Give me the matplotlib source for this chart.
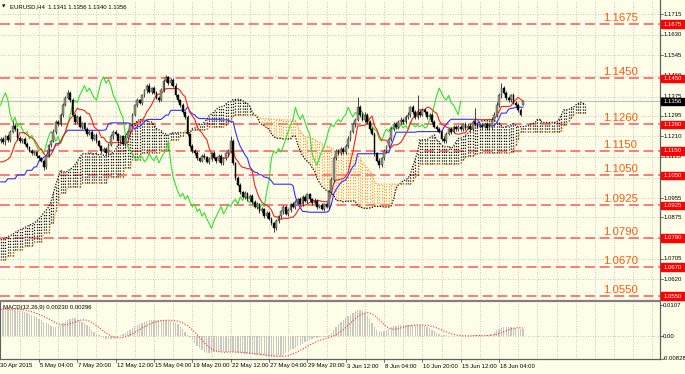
import numpy as np
import pandas as pd
import matplotlib
matplotlib.use('Agg')
import matplotlib.pyplot as plt
from matplotlib.lines import Line2D
from matplotlib.patches import Rectangle

# ---------------- data (prices x 10000) ----------------
close_pts = [
    11200, 11185, 11210, 11195, 11230, 11255, 11240, 11205, 11190, 11200,
    11180, 11165, 11150, 11140, 11145, 11130, 11120, 11110, 11085, 11130,
    11175, 11190, 11230, 11270, 11260, 11300, 11340, 11370, 11390, 11360,
    11300, 11270, 11290, 11250, 11265, 11240, 11220, 11230, 11200, 11215,
    11190, 11170, 11150, 11160, 11140, 11175, 11210, 11230, 11220, 11190,
    11210, 11180, 11205, 11230, 11260, 11300, 11340, 11360, 11350, 11380,
    11400, 11420, 11395, 11410, 11390, 11370, 11360, 11400, 11440, 11455,
    11430, 11445, 11420, 11380, 11360, 11340, 11310, 11290, 11220, 11170,
    11150, 11140, 11120, 11110, 11130, 11125, 11105, 11115, 11140, 11120,
    11110, 11130, 11100, 11120, 11140, 11150, 11190, 11100, 11040, 11010,
    10980, 10960, 10975, 10950, 10965, 10940, 10920, 10930, 10900, 10910,
    10880, 10895, 10870, 10850, 10830, 10860, 10880, 10900, 10920, 10890,
    10905, 10930, 10920, 10940, 10950, 10930, 10960, 10945, 10970, 10950,
    10935, 10945, 10920, 10925, 10910, 10930, 10920, 10980, 11030, 11120,
    11150, 11140, 11160, 11145, 11170, 11200, 11230, 11260, 11280, 11330,
    11300, 11280, 11300, 11270, 11240, 11220, 11140, 11110, 11090, 11120,
    11150, 11170, 11200, 11240, 11260, 11250, 11270, 11280, 11270, 11290,
    11300, 11330, 11310, 11290, 11310, 11300, 11320, 11310, 11290, 11300,
    11270, 11250, 11240, 11230, 11200, 11190, 11220, 11240, 11230, 11250,
    11240, 11250, 11240, 11260, 11245, 11255, 11240, 11270, 11260, 11250,
    11255, 11250, 11260, 11245, 11250, 11280, 11300, 11340, 11380, 11410,
    11390, 11370, 11360, 11380, 11350, 11340, 11320, 11300, 11356,
]
first_open = 11190
last_open = 11341
up_wick = [
    6, 8, 5, 9, 7, 20, 6, 5, 8, 4, 7, 5, 6, 9, 4, 6, 5, 7, 6, 8,
    5, 7, 9, 6, 8, 5, 9, 7, 10, 6, 8, 5, 7, 9, 6, 5, 8, 6, 7, 5,
    9, 6, 5, 8, 7, 6, 9, 5, 7, 6, 8, 5, 9, 6, 7, 8, 6, 9, 5, 7,
    8, 6, 9, 5, 7, 6, 8, 9, 7, 10, 6, 8, 5, 9, 7, 6, 8, 5, 7, 6,
    8, 6, 9, 5, 7, 10, 6, 8, 5, 9, 6, 7, 8, 5, 6, 7, 20, 9, 6, 8,
    7, 5, 9, 6, 8, 5, 7, 9, 6, 8, 5, 7, 6, 8, 5, 9, 6, 7, 8, 5,
    9, 6, 7, 8, 5, 9, 6, 7, 8, 5, 6, 9, 7, 5, 8, 6, 7, 9, 12, 10,
    8, 9, 6, 8, 7, 10, 8, 9, 7, 45, 12, 9, 10, 8, 7, 9, 8, 6, 9, 7,
    8, 6, 9, 7, 10, 8, 6, 9, 7, 8, 10, 7, 9, 8, 70, 8, 7, 9, 6, 8,
    7, 9, 6, 8, 7, 10, 8, 6, 9, 7, 8, 6, 9, 7, 8, 6, 9, 10, 58, 8,
    7, 9, 6, 8, 7, 10, 9, 12, 8, 21, 10, 8, 9, 7, 8, 6, 9, 7, 0,
]
dn_wick = [
    7, 5, 9, 6, 8, 5, 7, 9, 6, 8, 5, 7, 6, 8, 5, 9, 6, 7, 14, 8,
    6, 8, 5, 9, 7, 6, 8, 5, 7, 9, 6, 8, 5, 7, 9, 6, 8, 5, 7, 6,
    8, 5, 9, 6, 7, 8, 5, 9, 6, 8, 7, 5, 9, 6, 8, 7, 5, 9, 6, 8,
    7, 9, 5, 8, 6, 7, 9, 5, 8, 6, 7, 9, 5, 8, 6, 7, 9, 6, 8, 7,
    9, 6, 8, 7, 5, 9, 6, 8, 7, 5, 9, 6, 8, 7, 6, 9, 7, 8, 9, 7,
    8, 6, 9, 7, 5, 8, 6, 9, 7, 8, 6, 9, 7, 8, 15, 6, 8, 7, 9, 6,
    7, 8, 6, 9, 7, 5, 8, 6, 9, 7, 8, 6, 9, 7, 5, 8, 6, 9, 7, 8,
    9, 7, 8, 6, 9, 7, 8, 6, 9, 7, 8, 6, 9, 7, 8, 6, 9, 7, 10, 8,
    7, 9, 6, 8, 7, 9, 6, 8, 7, 9, 6, 8, 7, 9, 6, 8, 7, 9, 6, 8,
    9, 7, 8, 6, 9, 7, 8, 6, 9, 7, 8, 6, 9, 7, 8, 6, 9, 7, 8, 6,
    7, 9, 6, 8, 7, 9, 6, 8, 7, 9, 6, 8, 7, 9, 6, 8, 7, 5, 1,
]
# Ichimoku values at the left edge (before enough history)
tenkan_head = [11105, 11105, 11110, 11115, 11125, 11150, 11180, 11195]
kijun_head = ([11022] * 3 + [11035] * 4 + [11051] * 4 + [11070] * 3 + [11084] * 2
              + [11110] * 2 + [11125] * 2 + [11154] * 3 + [11180] * 2)
span_a_head = [10782, 10785, 10790, 10795, 10800, 10805, 10812, 10818, 10823, 10828,
               10833, 10838, 10843, 10848, 10852, 10860, 10870, 10880, 10895, 10905,
               10918, 10940, 10976, 11010, 11040, 11071]
span_b_head = ([10699] * 3 + [10715] * 3 + [10740] * 4 + [10755] * 4 + [10773] * 4
               + [10810] * 3 + [10852] * 2 + [10900] + [10935] + [10976] * 3
               + [11001] * 6 + [11017] * 11 + [11042] * 7 + [11080] * 3 + [11113] * 4
               + [11142] * 8 + [11154] * 4 + [11195] * 4 + [11210] * 2)
# MACD main line (x 10000)
macd_main = [
    92, 93, 94, 93, 92, 93, 91, 90, 88,
    85, 82, 78, 75, 72, 68, 64, 60,
    55, 50, 45, 40, 35, 32, 31,
    33, 38, 44, 50, 56, 60, 62, 62,
    60, 56, 50, 44, 38, 30, 22, 14, 7, 2,
    -3, -7, -9, -10, -10, -9, -7,
    -3, 2, 7, 12, 17, 22, 28,
    33, 38, 42, 46, 50, 52, 54, 55, 55, 54,
    54, 55, 55, 54, 53, 52, 50, 46, 40,
    32, 24, 15, 5, -5,
    -15, -25, -35, -43, -50, -55, -58, -58,
    -57, -56, -55, -54, -55, -56, -55, -54, -55, -56,
    -57, -58, -59, -60, -61, -62, -62, -63, -64, -65, -66,
    -68, -70, -71, -72, -72, -73, -72, -70, -68,
    -64, -60, -55, -50, -45, -40, -35, -30, -26, -22,
    -18, -14, -10, -8, -6, -5, -4, -3, -2, 2, 10,
    20, 30, 40, 48, 55, 62, 68,
    74, 80, 85, 89, 90, 88, 80, 70,
    58, 45, 32, 22, 16, 14,
    16, 20, 25, 30, 33, 36, 38, 38, 39, 39, 38, 38, 37, 38, 38, 37,
    36, 34, 31, 27, 22, 17, 12, 8, 5, 3,
    2, 1, 1, 0, 0, 0, 1, 1, 0, 0, 1, 2, 3, 3, 2, 1, 1, 2, 4,
    8, 14, 20, 25, 28, 30, 31, 31, 30, 29, 27, 25, 24, 23,
]
levels = [1.1675, 1.1450, 1.1260, 1.1150, 1.1050, 1.0925, 1.0790, 1.0670, 1.0550]
level_text = ['1.1675', '1.1450', '1.1260', '1.1150', '1.1050', '1.0925', '1.0790', '1.0670', '1.0550']
price_ticks = [1.1715, 1.1630, 1.1545, 1.1460, 1.1375, 1.1295, 1.1210, 1.1125,
               1.1040, 1.0955, 1.0875, 1.0790, 1.0705, 1.0620, 1.0535]
bid_price = 1.1356
date_labels = ['30 Apr 2015', '5 May 04:00', '7 May 20:00', '12 May 12:00', '15 May 04:00',
               '19 May 20:00', '22 May 12:00', '27 May 04:00', '29 May 20:00', '3 Jun 12:00',
               '8 Jun 04:00', '10 Jun 20:00', '15 Jun 12:00', '18 Jun 04:00']
macd_ticks = [0.0107, 0.0, -0.0079]
macd_tick_text = ['0.0107', '0.00', '-0.00828']
header_text = 'EURUSD,H4  1.1341 1.1356 1.1340 1.1356'
macd_text = 'MACD(12,26,9) 0.00230 0.00296'

# ---------------- computations ----------------
close = np.array(close_pts) / 1e4
N = len(close)
opn = np.r_[first_open / 1e4, close[:-1]]
opn[-1] = last_open / 1e4
high = np.maximum(opn, close) + np.array(up_wick[:N]) / 1e4
low = np.minimum(opn, close) - np.array(dn_wick[:N]) / 1e4
hs, ls = pd.Series(high), pd.Series(low)
tenkan = ((hs.rolling(9).max() + ls.rolling(9).min()) / 2).values
tenkan[:len(tenkan_head)] = np.array(tenkan_head) / 1e4
kijun = ((hs.rolling(26).max() + ls.rolling(26).min()) / 2).values
kijun[:len(kijun_head)] = np.array(kijun_head) / 1e4
mid52 = ((hs.rolling(52).max() + ls.rolling(52).min()) / 2).values
M = N + 26
span_a = np.full(M, np.nan)
span_b = np.full(M, np.nan)
span_a[26:] = (tenkan + kijun) / 2
span_a[:len(span_a_head)] = np.array(span_a_head) / 1e4
span_b[26:] = mid52
span_b[:len(span_b_head)] = np.array(span_b_head) / 1e4
macd = np.array(macd_main) / 1e4
signal = pd.Series(macd).rolling(9, min_periods=1).mean().values

# ---------------- layout ----------------
W, H = 685, 374
BG = '#fffee8'
BAR0, DX = 0.66, 2.396          # pixel position of bar 0, pixels per bar
PX_PER_PRICE = 2418.0
REF_P, REF_Y = 1.1675, 24.0


def py(p):
    return REF_Y + (REF_P - p) * PX_PER_PRICE


def rect(x0, y0, x1, y1):
    return [x0 / W, 1 - y1 / H, (x1 - x0) / W, (y1 - y0) / H]


fig = plt.figure(figsize=(W / 100, H / 100), dpi=100)
fig.patch.set_facecolor(BG)
plt.rcParams['font.family'] = ['Liberation Sans', 'DejaVu Sans']

MAIN_Y0, MAIN_Y1 = 0, 300
MACD_Y0, MACD_Y1 = 302, 359
ax = fig.add_axes(rect(0, MAIN_Y0, 660, MAIN_Y1))
axm = fig.add_axes(rect(0, MACD_Y0, 660, MACD_Y1))
XMIN = (0 - BAR0) / DX
XMAX = (660 - BAR0) / DX
for a in (ax, axm):
    a.set_facecolor(BG)
    a.set_xlim(XMIN, XMAX)
    a.set_xticks([])
    a.set_yticks([])
    for s in a.spines.values():
        s.set_visible(False)
ax.set_ylim(REF_P - (MAIN_Y1 - REF_Y) / PX_PER_PRICE, REF_P + (REF_Y - MAIN_Y0) / PX_PER_PRICE)

MACD_ZERO_Y, MACD_PX = 336.0, 2897.0
axm.set_ylim(-(MACD_Y1 - MACD_ZERO_Y) / MACD_PX, (MACD_ZERO_Y - MACD_Y0) / MACD_PX)

GRID = '#b8b8b0'
grid_bars = np.arange(8, 280, 8)
for a in (ax, axm):
    for gb in grid_bars:
        a.axvline(gb, color=GRID, lw=0.6, ls=(0, (1, 2)), zorder=0)
for p in price_ticks:
    ax.axhline(p, color=GRID, lw=0.6, ls=(0, (1, 2)), zorder=0)
axm.axhline(0, color=GRID, lw=0.6, ls=(0, (1, 2)), zorder=0)

# support / resistance levels
for lv, tx in zip(levels, level_text):
    ax.axhline(lv, color='#ff7070', lw=1.3, ls=(0, (5.5, 2.6)), zorder=1)
    ax.text(603 / 660, lv + 3.0 / PX_PER_PRICE, tx, transform=ax.get_yaxis_transform(),
            ha='left', va='baseline', fontsize=8.2, color='#ff5a14', zorder=6)

# bid line
ax.axhline(bid_price, color='#c0c0c0', lw=0.8, zorder=1)

# Ichimoku cloud
xc = np.arange(M)
ORANGE = '#f5a040'
for j in range(M):
    a_, b_ = span_a[j], span_b[j]
    if np.isnan(a_) or np.isnan(b_):
        continue
    col = '#101010' if a_ >= b_ else ORANGE
    ax.vlines(j, min(a_, b_), max(a_, b_), color=col, lw=0.9, ls=(0, (1, 1.3)), zorder=2)
ax.plot(xc, span_a, color='#101010', lw=0.9, ls=(0, (1, 1.2)), zorder=2)
ax.plot(xc, span_b, color=ORANGE, lw=0.9, ls=(0, (1, 1.2)), zorder=2)

# Ichimoku lines
xb = np.arange(N)
ax.plot(xb[:-26], close[26:], color='#30e030', lw=0.8, zorder=3)
ax.plot(xb, kijun, color='#3030ff', lw=0.8, zorder=3)
ax.plot(xb, tenkan, color='#ff2020', lw=0.8, zorder=3)

# candles
upc = close >= opn
ax.vlines(xb, low, high, color='#202020', lw=0.6, zorder=4)
body_h = np.where(np.abs(close - opn) < 0.00008, 0.00008, np.abs(close - opn))
ax.bar(xb[upc], body_h[upc], bottom=opn[upc], width=0.75, color='#8e9a80',
       edgecolor='#303030', lw=0.3, zorder=5)
ax.bar(xb[~upc], body_h[~upc], bottom=close[~upc], width=0.75, color='#000000',
       edgecolor='#000000', lw=0.3, zorder=5)

# MACD
axm.bar(xb, macd, width=0.55, color='#c8c8c0', zorder=2)
axm.plot(xb, signal, color='#ff3030', lw=0.8, ls=(0, (1, 1.5)), zorder=3)


# ---------------- frame, axes labels ----------------
def fline(x0, y0, x1, y1, **kw):
    fig.add_artist(Line2D([x0 / W, x1 / W], [1 - y0 / H, 1 - y1 / H], **kw))


fline(660, 0, 660, 359, color='#606060', lw=0.9)
fline(0, 301, 660, 301, color='#808080', lw=1.6)
fline(0, 359, 660, 359, color='#606060', lw=0.9)
fline(0.4, 302, 0.4, 359, color='#606060', lw=0.8)

FS = 4.3
for p in price_ticks:
    y = py(p)
    fline(660, y, 663, y, color='#404040', lw=0.5)
    fig.text(664 / W, 1 - y / H, f'{p:.4f}', fontsize=FS, ha='left', va='center', color='#000000')

for lv, tx in zip(levels, level_text):
    y = py(lv)
    fig.add_artist(Rectangle((661 / W, 1 - (y + 3.6) / H), 23 / W, 7.2 / H,
                             transform=fig.transFigure, color='#ff0000', zorder=5))
    fig.text(663.5 / W, 1 - y / H, tx, fontsize=FS, ha='left', va='center', color='white', zorder=6)

yb = py(bid_price)
fig.add_artist(Rectangle((661 / W, 1 - (yb + 3.6) / H), 23 / W, 7.2 / H,
                         transform=fig.transFigure, color='#000000', zorder=5))
fig.text(663.5 / W, 1 - yb / H, f'{bid_price:.4f}', fontsize=FS, ha='left', va='center',
         color='white', zorder=6)

for v, tx in zip(macd_ticks, macd_tick_text):
    y = MACD_ZERO_Y - v * MACD_PX
    fline(660, y, 663, y, color='#404040', lw=0.5)
    fig.text(662.5 / W, 1 - y / H, tx, fontsize=FS, ha='left', va='center', color='#000000')

for k, lab in enumerate(date_labels):
    xpix = BAR0 + DX * 16 * k
    if k > 0:
        fline(xpix, 359, xpix, 362, color='#404040', lw=0.5)
    fig.text((xpix + (1.0 if k > 0 else -1.0)) / W, 1 - 366 / H, lab, fontsize=FS,
             ha='left', va='center', color='#000000')

fig.text(2 / W, 1 - 6.5 / H, '\u25bc', fontsize=3.2, ha='left', va='center',
         color='#000000', family='DejaVu Sans')
fig.text(10 / W, 1 - 6.5 / H, header_text, fontsize=FS, ha='left', va='center', color='#000000')
fig.text(3 / W, 1 - 308 / H, macd_text, fontsize=FS, ha='left', va='center', color='#000000')

fig.savefig('out.png', dpi=100, facecolor=BG)
